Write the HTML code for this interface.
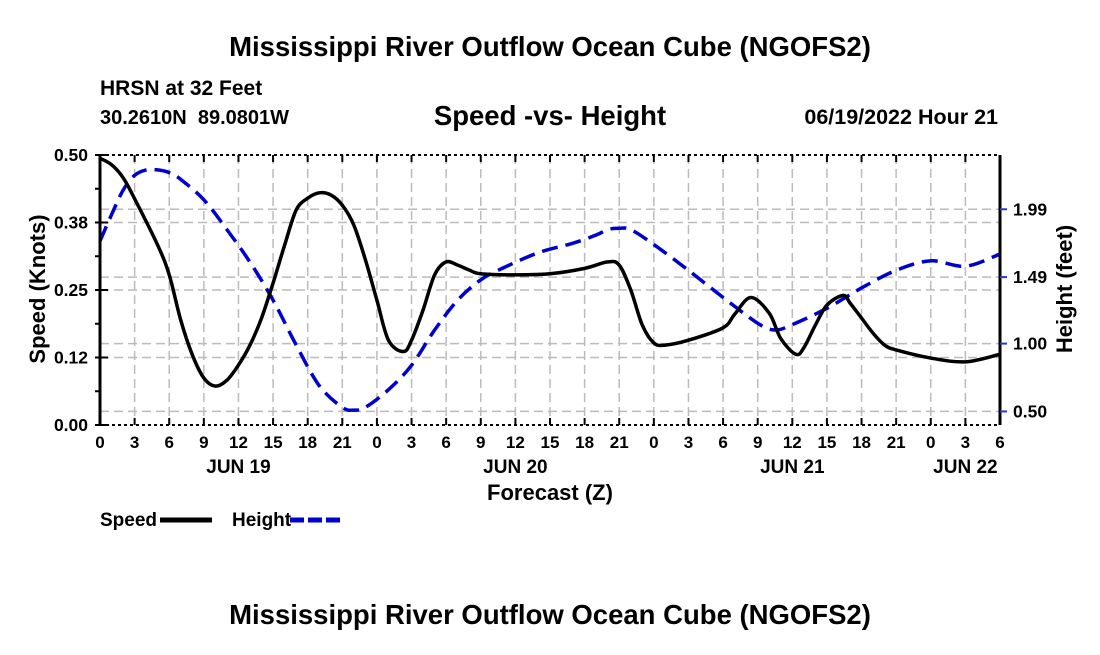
<!DOCTYPE html>
<html><head><meta charset="utf-8"><style>
body{margin:0;background:#fff;}
svg text{font-family:"Liberation Sans",Arial,sans-serif;font-weight:bold;fill:#000;}
</style></head><body>
<svg id="chart" width="1100" height="650">
<text x="550" y="56" text-anchor="middle" font-size="27.5">Mississippi River Outflow Ocean Cube (NGOFS2)</text>
<text x="100" y="95" font-size="21">HRSN at 32 Feet</text>
<text x="100" y="124" font-size="20" xml:space="preserve">30.2610N  89.0801W</text>
<text x="550" y="125" text-anchor="middle" font-size="27.5">Speed -vs- Height</text>
<text x="998" y="124" text-anchor="end" font-size="21.5">06/19/2022 Hour 21</text>
<g id="grid"></g>
<g id="series"></g>
<g id="axes"></g>
<text x="550" y="500" text-anchor="middle" font-size="22">Forecast (Z)</text>
<text transform="translate(45,289) rotate(-90)" text-anchor="middle" font-size="22">Speed (Knots)</text>
<text transform="translate(1072,289) rotate(-90)" text-anchor="middle" font-size="22">Height (feet)</text>
<g>
<text x="100" y="526" font-size="19">Speed</text>
<line x1="160" y1="520" x2="212" y2="520" stroke="#000" stroke-width="5"/>
<text x="232" y="526" font-size="19">Height</text>
<line x1="290" y1="520" x2="342" y2="520" stroke="#0000cc" stroke-width="5" stroke-dasharray="14,4"/>
</g>
<text x="550" y="624" text-anchor="middle" font-size="27.5">Mississippi River Outflow Ocean Cube (NGOFS2)</text>
</svg>
<script>
const speedHours=[0,1,2,3,5,6,7,8,9,10,11,12,13,14,15,16,17,18,19,20,21,22,23,24,25,26.3,27,28,29,30,31,32,33,36,39,42,44,45,46,47,48,49,51,54,55,56.4,58,59,60.3,61,62,63,64.4,65,66,67,68,69,72,75,78];
const speedValues=[0.494,0.482,0.458,0.419,0.333,0.278,0.194,0.13,0.087,0.072,0.083,0.111,0.148,0.198,0.263,0.333,0.398,0.42,0.43,0.426,0.407,0.37,0.306,0.231,0.157,0.136,0.157,0.213,0.278,0.302,0.296,0.287,0.28,0.278,0.28,0.29,0.302,0.296,0.25,0.185,0.152,0.148,0.157,0.18,0.205,0.236,0.207,0.16,0.131,0.143,0.185,0.222,0.24,0.226,0.198,0.17,0.148,0.139,0.124,0.117,0.131];
const heightHours=[0,1,2,3,4,5,6,7,9,11,13,15,17,19,21,22,23,25,27,29,31,33,35,38,41,43,44,45,46,48,51,54,57,58.5,60,63,66,69,72,75,78];
const heightValues=[1.756,1.95,2.13,2.24,2.28,2.28,2.26,2.21,2.06,1.84,1.60,1.32,0.99,0.69,0.53,0.51,0.53,0.66,0.84,1.10,1.32,1.47,1.56,1.67,1.74,1.80,1.84,1.85,1.84,1.73,1.54,1.34,1.15,1.10,1.14,1.26,1.41,1.54,1.61,1.57,1.66];
const xTickLabels=["0","3","6","9","12","15","18","21","0","3","6","9","12","15","18","21","0","3","6","9","12","15","18","21","0","3","6"];
const dayLabels=["JUN 19","JUN 20","JUN 21","JUN 22"];
const dayHours=[12,36,60,75];
const speedTicks=[0,0.125,0.25,0.375,0.5];
const speedTickLabels=["0.00","0.12","0.25","0.38","0.50"];
const heightTicks=[0.50,1.00,1.49,1.99];
const heightTickLabels=["0.50","1.00","1.49","1.99"];

const X0=100,X1=1000,Y0=425,Y1=155;
const xs=h=>X0+h/78*(X1-X0);
const ys=v=>Y0-v/0.5*(Y0-Y1);
const yh=v=>Y0-(v-0.40)/1.99*(Y0-Y1);
const NS="http://www.w3.org/2000/svg";
function mk(tag,attrs,parent){const e=document.createElementNS(NS,tag);for(const k in attrs)e.setAttribute(k,attrs[k]);parent.appendChild(e);return e;}
const grid=document.getElementById('grid'),axes=document.getElementById('axes'),series=document.getElementById('series');
const gs={stroke:"#bbb","stroke-width":1.5,"stroke-dasharray":"9,5"};
for(let i=1;i<xTickLabels.length-1;i++){const l=mk('line',Object.assign({x1:xs(i*3),x2:xs(i*3),y1:Y1,y2:Y0},gs),grid);

}
speedTicks.slice(1,4).forEach(v=>{const l=mk('line',Object.assign({x1:X0,x2:X1,y1:ys(v),y2:ys(v)},gs),grid);

});
heightTicks.forEach(v=>{const l=mk('line',Object.assign({x1:X0,x2:X1,y1:yh(v),y2:yh(v)},gs),grid);

});
function smooth(hx,vals,fx,fy){const p=hx.map((h,i)=>[fx(h),fy(vals[i])]);let d="M"+p[0][0]+","+p[0][1];
for(let i=0;i<p.length-1;i++){const a=p[Math.max(0,i-1)],b=p[i],c=p[i+1],e=p[Math.min(p.length-1,i+2)];
d+=" C"+(b[0]+(c[0]-a[0])/6)+","+(b[1]+(c[1]-a[1])/6)+" "+(c[0]-(e[0]-b[0])/6)+","+(c[1]-(e[1]-b[1])/6)+" "+c[0]+","+c[1];}return d;}
const hp=mk('path',{d:smooth(heightHours,heightValues,xs,yh),fill:"none",stroke:"#0000cc","stroke-width":3.5,"stroke-dasharray":"16,8"},series);


const sp=mk('path',{d:smooth(speedHours,speedValues,xs,ys),fill:"none",stroke:"#000","stroke-width":3.5},series);


const fr=[[X0,Y1,X0,Y0,"#000",3,""],[X1,Y1,X1,Y0,"#000",3,""],[X0,Y1,X1,Y1,"#000",2,"3,3"],[X0,Y0,X1,Y0,"#000",2,"3,3"]];
fr.forEach(f=>{const l=mk('line',{x1:f[0],y1:f[1],x2:f[2],y2:f[3],stroke:f[4],"stroke-width":f[5],"stroke-dasharray":f[6]},axes);

});
xTickLabels.forEach((t,i)=>{const x=xs(i*3);
mk('line',{x1:x,x2:x,y1:Y0,y2:Y0-7,stroke:"#000","stroke-width":2},axes);
mk('line',{x1:x,x2:x,y1:Y1,y2:Y1+7,stroke:"#000","stroke-width":2},axes);
const tx=mk('text',{x:x,y:448,"text-anchor":"middle","font-size":17},axes);tx.textContent=t;

});
dayLabels.forEach((t,i)=>{const tx=mk('text',{x:xs(dayHours[i]),y:473,"text-anchor":"middle","font-size":19},axes);tx.textContent=t;

});
for(let v=0;v<=0.5001;v+=0.0625){mk('line',{x1:X0,x2:X0-5,y1:ys(v),y2:ys(v),stroke:"#000","stroke-width":2},axes);}
speedTicks.forEach((v,i)=>{mk('line',{x1:X0,x2:X0+8,y1:ys(v),y2:ys(v),stroke:"#000","stroke-width":2},axes);
const tx=mk('text',{x:88,y:ys(v)+6,"text-anchor":"end","font-size":17.5},axes);tx.textContent=speedTickLabels[i];

});
heightTicks.forEach((v,i)=>{mk('line',{x1:X1,x2:X1+7,y1:yh(v),y2:yh(v),stroke:"#3333cc","stroke-width":2},axes);
const tx=mk('text',{x:1013,y:yh(v)+6,"font-size":17.5},axes);tx.textContent=heightTickLabels[i];

});
</script>
</body></html>
